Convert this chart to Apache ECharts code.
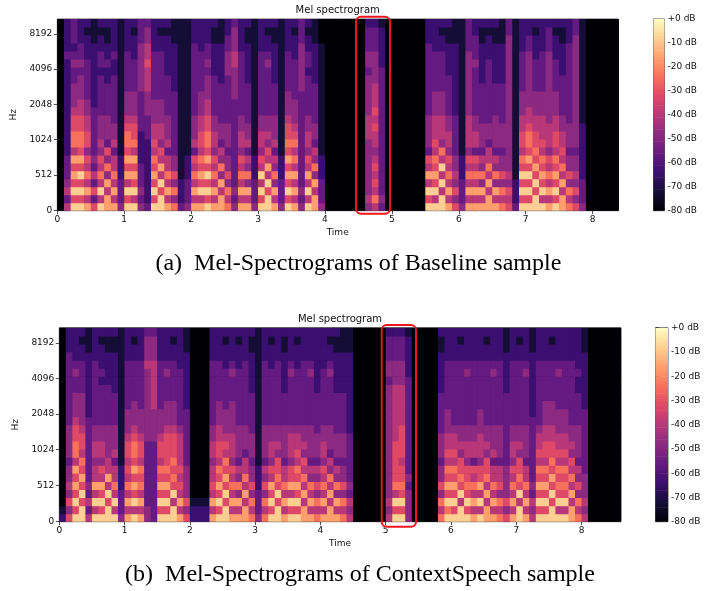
<!DOCTYPE html>
<html>
<head>
<meta charset="utf-8">
<script src="https://cdn.jsdelivr.net/npm/echarts@6/dist/echarts.min.js"></script>
<style>
html, body { margin: 0; padding: 0; background: #ffffff; }
#main { width: 718px; height: 591px; }
</style>
</head>
<body>
<div id="main"></div>
<script>
// tick labels
var hzTicks = [0, 512, 1024, 2048, 4096, 8192];
var timeTicks = [0, 1, 2, 3, 4, 5, 6, 7, 8];
var dbTicks = [0, -10, -20, -30, -40, -50, -60, -70, -80];

// clip lengths (s) and top frequency (Hz)
var topDuration = 8.38;
var bottomDuration = 8.6;
var fMax = 11025;

// one string per 0.1 s frame, 24 bands from low to high, digit d -> d*8-80 dB
var topCols = [
	'000000000000000000000000', '535433322222222222232222', '969686857766544433432333', '969696867766554443433222',
	'858575646655443333322212', '636353433333322222222111', '959575645444333332332212', '885847463444333322322112',
	'858575535443333332232222', '433322211111111111111111', '969586867765444333332222', '959686857665444333322212',
	'434333222233333444444333', '322222222333444555655443', '969686756554443333332222', '996958564554443333332212',
	'858575535444333332222212', '747464433333333222222111', '322211111111111111111111', '433322211111111111111111',
	'858575635444333333333222', '859686756655444333332222', '969696867766554443433222', '858575645544333332222112',
	'885847453443333322222111', '757464434443333334443322', '434333333333334444554443', '858575645544333333332222',
	'858474535443333322222112', '433322211111111111111111', '969595645544333333332222', '996958564544333333432212',
	'858474535444333322222112', '433322211111111111111111', '969686867665444333332222', '858585757654443333322212',
	'434333333333333444444333', '959585645544333332332212', '885847453443333322222111', '433322211111111111111000',
	'000000000000000000000000', '000000000000000000000000', '000000000000000000000000', '000000000000000000000000',
	'000000000000000000000000', '000000000000000000000000', '454444444555444443443332', '575656545565655544443332',
	'343333333333333333222221', '000000000000000000000000', '000000000000000000000000', '000000000000000000000000',
	'000000000000000000000000', '000000000000000000000000', '000000000000000000000000', '969585634444333333333222',
	'959686756555444333332222', '995959574555444333332212', '858575645544333332222112', '646454433333222222222111',
	'433322211111111111111111', '858575645555444444443333', '858575635544333333433322', '858474534443333322222112',
	'885857553443333333322212', '858474534444333322222112', '757464434443333322222111', '656454444444444444444433',
	'322211111111111111111111', '969696756655444333332222', '969696867765544444443322', '996968676655444333322212',
	'959686756555444333332222', '858575645554444444443332', '969686756655444333322212', '885857565544333332222112',
	'757464434443333333333222', '646454434444444444444433', '433322222221111111111111', '000000000000000000000000',
	'000000000000000000000000', '000000000000000000000000', '000000000000000000000000', '000000000000000000000000'
];

var bottomCols = [
	'210000000000000000000000', '646454434444333333333222', '969686857766544433432222', '996968675665444433332212',
	'535343333333322222222111', '959585545544333333332222', '969685645544333332322212', '996958554444333332222112',
	'959575535444333322222112', '433322211111111111111111', '858575656654443333332222', '959686867765444333332212',
	'858576756654443333332222', '443333333344444444454443', '333333333344445555554443', '969686756654443333332222',
	'969686766665444333432222', '995967676665444333332212', '858565655554333333322222', '646444433333332222222111',
	'221000000000000000000000', '221000000000000000000000', '221000000000000000000000', '858565545544333333332222',
	'969686756655444333332222', '996968675654443333322212', '858575645554444333432222', '858474534444333333322212',
	'885857553444333333332222', '757464434443333322222112', '433322211111111111111111', '757464534444333333332222',
	'969685645544333333322212', '996967664544333333332222', '858575534444333322222112', '969586645554333333432222',
	'969686756554333333322212', '885857564544333333332222', '858574534444333333432222', '757464534443333322222222',
	'858575645544333333322222', '885857453444333333432212', '858474534443333322222112', '757464434443333322222111',
	'545343333332222222222111', '000000000000000000000000', '000000000000000000000000', '000000000000000000000000',
	'000000000000000000000000', '000000000000000000000000', '545444444444444443443332', '969576666655555554443332',
	'969676656666555554443332', '444434333333333333222221', '000000000000000000000000', '000000000000000000000000',
	'000000000000000000000000', '000000000000000000000000', '757464434443333322222112', '979686756554443333332222',
	'969686756554333333332222', '995967664544333333332212', '969676645544333333432222', '858575635544333333332222',
	'959586645554443333332222', '885857664544333333332212', '858575535444333333432222', '757465534444333333332222',
	'646444433333333322222111', '858575645544333333332222', '995967664544333333332212', '858575534444333333432222',
	'545343333333322222222111', '969686756554333333332222', '969686756655444333332222', '996968676655444333332212',
	'959676756554443333432222', '959676756554443333332222', '885857564544333333332222', '757464534444333322322222',
	'545444333333332222222111', '000000000000000000000000', '000000000000000000000000', '000000000000000000000000',
	'000000000000000000000000', '000000000000000000000000'
];

var colStep = 0.1;
var nBands = 24;

// librosa mel axis: symlog, base 2, linthresh 1000 Hz
function symHz(hz) {
	return hz <= 1000 ? 2 * hz / 1000 : 2 + Math.log(hz / 1000) / Math.LN2;
}
var yMax = symHz(fMax);
var bandH = yMax / nBands;
var symTicks = hzTicks.map(symHz);

function buildCells(cols) {
	var cells = [];
	for (var i = 0; i < cols.length; i++) {
		for (var r = 0; r < cols[i].length; r++) {
			cells.push([i * colStep, r, Number(cols[i].charAt(r)) * 8 - 80]);
		}
	}
	return cells;
}

function renderCell(params, api) {
	var t = api.value(0), r = api.value(1);
	var p0 = api.coord([t, r * bandH]);
	var p1 = api.coord([t + colStep, (r + 1) * bandH]);
	return {
		type: 'rect',
		shape: { x: p0[0], y: p1[1], width: p1[0] - p0[0] + 0.6, height: p0[1] - p1[1] + 0.6 },
		style: { fill: api.visual('color') }
	};
}

// colour bar strip
var cbCells = [];
for (var v = -80; v < 0; v++) cbCells.push([0, v, v + 0.5]);

function renderBar(params, api) {
	var v = api.value(1);
	var p0 = api.coord([0, v]);
	var p1 = api.coord([1, v + 1]);
	return {
		type: 'rect',
		shape: { x: p0[0], y: p1[1], width: p1[0] - p0[0], height: p0[1] - p1[1] + 0.6 },
		style: { fill: api.visual('color') }
	};
}

var magma = ['#000004', '#140e36', '#3b0f70', '#641a80', '#8c2981', '#b73779',
	'#de4968', '#f7705c', '#fe9f6d', '#fecf92', '#fcfdbf'];

var axisFont = { fontFamily: 'DejaVu Sans', fontSize: 9, color: '#111' };
var tickStyle = { color: '#222', width: 0.8 };

function specX(idx, maxT) {
	return {
		type: 'value', gridIndex: idx, min: 0, max: maxT,
		name: 'Time', nameLocation: 'middle', nameGap: 17,
		nameTextStyle: axisFont,
		axisLine: { show: false },
		splitLine: { show: false },
		axisTick: { show: true, length: 3.5, lineStyle: tickStyle, customValues: timeTicks },
		axisLabel: Object.assign({ margin: 4, customValues: timeTicks }, axisFont)
	};
}

function specY(idx) {
	return {
		type: 'value', gridIndex: idx, min: 0, max: yMax,
		name: 'Hz', nameLocation: 'middle', nameGap: 31, nameRotate: 90,
		nameTextStyle: axisFont,
		axisLine: { show: false },
		splitLine: { show: false },
		axisTick: { show: true, length: 3.5, lineStyle: tickStyle, customValues: symTicks },
		axisLabel: Object.assign({
			margin: 5,
			customValues: symTicks,
			formatter: function (val) {
				for (var k = 0; k < symTicks.length; k++) {
					if (Math.abs(symTicks[k] - val) < 1e-6) return String(hzTicks[k]);
				}
				return '';
			}
		}, axisFont)
	};
}

function barX(idx) {
	return { type: 'value', gridIndex: idx, min: 0, max: 1, show: false };
}

function barY(idx) {
	return {
		type: 'value', gridIndex: idx, min: -80, max: 0, interval: 10, position: 'right',
		axisLine: { show: false },
		splitLine: { show: false },
		axisTick: { show: true, length: 3.5, lineStyle: tickStyle, customValues: dbTicks },
		axisLabel: Object.assign({
			margin: 3,
			customValues: dbTicks,
			formatter: function (val) { return (val === 0 ? '+0' : val) + ' dB'; }
		}, axisFont)
	};
}

var gridBase = { show: true, borderColor: '#333', borderWidth: 0.8, outerBoundsMode: 'none', containLabel: false };

var option = {
	backgroundColor: '#ffffff',
	animation: false,
	grid: [
		Object.assign({ left: 57.3, top: 19, width: 560.7, height: 191.7, backgroundColor: '#000004' }, gridBase),
		Object.assign({ left: 653.5, top: 19, width: 11, height: 191.7 }, gridBase),
		Object.assign({ left: 59.3, top: 327.7, width: 561.4, height: 194, backgroundColor: '#000004' }, gridBase),
		Object.assign({ left: 655.5, top: 327.7, width: 12.5, height: 194 }, gridBase)
	],
	xAxis: [specX(0, topDuration), barX(1), specX(2, bottomDuration), barX(3)],
	yAxis: [specY(0), barY(1), specY(2), barY(3)],
	visualMap: {
		type: 'continuous', show: false, min: -80, max: 0, dimension: 2,
		seriesIndex: [0, 1, 2, 3],
		inRange: { color: magma }
	},
	series: [
		{ type: 'custom', xAxisIndex: 0, yAxisIndex: 0, clip: true, renderItem: renderCell,
			encode: { x: 0, y: 1 }, data: buildCells(topCols) },
		{ type: 'custom', xAxisIndex: 1, yAxisIndex: 1, clip: true, renderItem: renderBar,
			encode: { x: 0, y: 1 }, data: cbCells },
		{ type: 'custom', xAxisIndex: 2, yAxisIndex: 2, clip: true, renderItem: renderCell,
			encode: { x: 0, y: 1 }, data: buildCells(bottomCols) },
		{ type: 'custom', xAxisIndex: 3, yAxisIndex: 3, clip: true, renderItem: renderBar,
			encode: { x: 0, y: 1 }, data: cbCells }
	],
	graphic: [
		{ type: 'text', x: 337.7, y: 10, style: { text: 'Mel spectrogram', fontFamily: 'DejaVu Sans', fontSize: 10,
			fill: '#111', align: 'center', verticalAlign: 'middle' } },
		{ type: 'text', x: 340, y: 319, style: { text: 'Mel spectrogram', fontFamily: 'DejaVu Sans', fontSize: 10,
			fill: '#111', align: 'center', verticalAlign: 'middle' } },
		{ type: 'text', x: 358.4, y: 264, style: { text: '(a)  Mel-Spectrograms of Baseline sample',
			fontFamily: 'Liberation Serif', fontSize: 24, fill: '#000', align: 'center', verticalAlign: 'middle' } },
		{ type: 'text', x: 360, y: 575, style: { text: '(b)  Mel-Spectrograms of ContextSpeech sample',
			fontFamily: 'Liberation Serif', fontSize: 24, fill: '#000', align: 'center', verticalAlign: 'middle' } },
		{ type: 'rect', shape: { x: 356, y: 16.7, width: 34, height: 197, r: 5 },
			style: { fill: 'none', stroke: '#f0141e', lineWidth: 2 }, z: 100 },
		{ type: 'rect', shape: { x: 381.7, y: 325, width: 34.3, height: 201.7, r: 5 },
			style: { fill: 'none', stroke: '#f0141e', lineWidth: 2 }, z: 100 }
	]
};

var chart = echarts.init(document.getElementById('main'), null, { renderer: 'canvas' });
chart.setOption(option);
</script>
</body>
</html>
